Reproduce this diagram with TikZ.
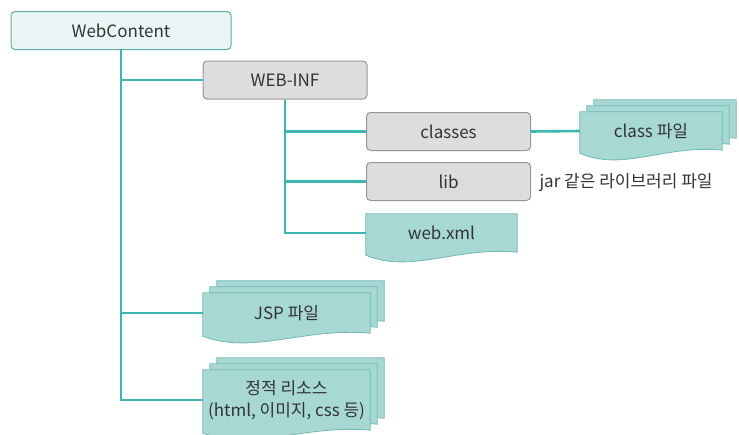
\documentclass[tikz,border=0pt]{standalone}
\usepackage{fontspec}
\setmainfont{Noto Sans CJK KR}
\usetikzlibrary{calc,backgrounds}

\definecolor{tealline}{RGB}{60,182,177}
\definecolor{docfill}{RGB}{168,216,212}
\definecolor{docedge}{RGB}{112,184,179}
\definecolor{rootfill}{RGB}{234,246,245}
\definecolor{rootedge}{RGB}{96,172,167}
\definecolor{dirfill}{RGB}{221,221,221}
\definecolor{diredge}{RGB}{150,150,150}
\definecolor{labeltext}{RGB}{51,51,51}

\tikzset{
  every node/.style={font=\fontsize{17}{22}\selectfont, text=labeltext},
  dir/.style={draw=diredge, fill=dirfill, rounded corners=4pt, line width=1pt,
    minimum width=164pt, minimum height=38pt},
  root/.style={dir, draw=rootedge, fill=rootfill, minimum width=220pt},
  doc/.style={minimum height=38pt, inner sep=0pt, align=center},
  docpage/.style={draw=docedge, fill=docfill, line width=0.8pt},
  branch/.style={draw=tealline, line width=2.6pt},
}

%% one page behind node #1, moved by #2
\newcommand{\docpage}[2]{%
  \begin{scope}[on background layer]
    \path[docpage] ($(#1.south west)+(0,-3)+#2$) -- ($(#1.north west)+#2$) -- ($(#1.north east)+#2$)
      -- ($(#1.south east)+#2$)
      .. controls ($(#1.south west)!0.6!(#1.south east)+(0,6)+#2$) and ($(#1.south west)!0.3!(#1.south east)+(0,-22)+#2$)
      .. ($(#1.south west)+(0,-3)+#2$) -- cycle;
  \end{scope}}
\newcommand{\docstack}[1]{\docpage{#1}{(14,12)}\docpage{#1}{(7,6)}\docpage{#1}{(0,0)}}

\begin{document}
\begin{tikzpicture}[x=1pt,y=1pt]
  \useasboundingbox (0,0) rectangle (739,-434);
  %% folders
  \node[root] (webcontent) at (121,-30.5) {WebContent};
  \node[dir] (webinf) at (285,-80) {WEB-INF};
  \node[dir] (classes) at (448.5,-131.5) {classes};
  \node[dir] (lib) at (448.5,-181.5) {lib};
  \node[anchor=west] (libnote) at (536,-183) {jar 같은 라이브러리 파일};
  %% files
  \node[doc, minimum width=142pt] (classfile) at (651,-131) {class 파일};
  \docstack{classfile}
  \node[doc, minimum width=151pt] (webxml) at (441.5,-233) {web.xml};
  \docpage{webxml}{(0,0)}
  \node[doc, minimum width=167pt, minimum height=40pt] (jsp) at (286.5,-313) {JSP 파일};
  \docstack{jsp}
  \node[doc, minimum width=167pt, minimum height=60pt] (static) at (286.5,-400) {정적 리소스\\(html, 이미지, css 등)};
  \docstack{static}
  %% branches
  \draw[branch] (webcontent.south) |- (static.west);
  \draw[branch] (webcontent.south |- webinf.west) -- (webinf.west);
  \draw[branch] (webcontent.south |- jsp.west) -- (jsp.west);
  \draw[branch] (webinf.south) |- (webxml.west);
  \draw[branch] (webinf.south |- classes.west) -- (classes.west);
  \draw[branch] (webinf.south |- lib.west) -- (lib.west);
  \draw[branch] (classes.east) -- (classfile.west);
\end{tikzpicture}
\end{document}
